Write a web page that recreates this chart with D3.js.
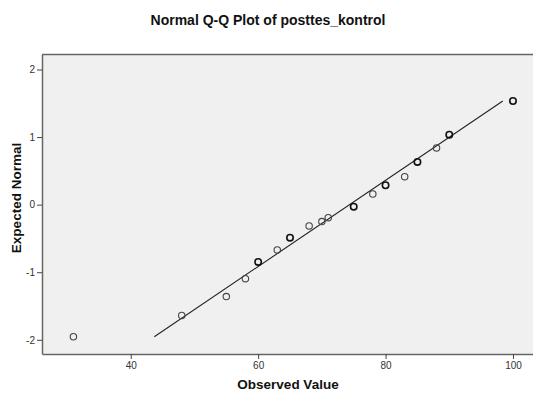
<!DOCTYPE html>
<html><head><meta charset="utf-8">
<script src="https://cdn.jsdelivr.net/npm/d3@7"></script>
<style>body{margin:0;background:#fff}svg{display:block}</style>
</head><body><svg id="c" width="533" height="393"></svg>
<script>
const observed = [31, 48, 55, 58, 60, 63, 65, 68, 70, 71, 75, 78, 80, 83, 85, 88, 90, 100];
const expected = [-1.955, -1.64, -1.36, -1.095, -0.848, -0.67, -0.488, -0.315, -0.25, -0.192, -0.03, 0.158, 0.287, 0.414, 0.632, 0.839, 1.036, 1.534];
const counts   = [1, 1, 1, 1, 2, 1, 2, 1, 1, 1, 2, 1, 2, 1, 2, 1, 2, 2];
const lineMean = 74.35, lineSD = 15.68;
const xTicks = [40, 60, 80, 100];
const yTicks = [-2, -1, 0, 1, 2];

const svg = d3.select("#c");
const L = 42, T = 54.5, R = 534, B = 354;
const x = d3.scaleLinear().domain([26.07, 103.3]).range([L, R]);
const y = d3.scaleLinear().domain([-2.21, 2.222]).range([B, T]);
const font = "Liberation Sans, Arial, sans-serif";

svg.append("rect").attr("x", L).attr("y", T).attr("width", R - L).attr("height", B - T)
  .attr("fill", "#f0f0f0");

svg.append("text").attr("x", 268).attr("y", 25).attr("text-anchor", "middle")
  .attr("font-family", font).attr("font-weight", "bold")
  .attr("font-size", 14).attr("fill", "#111").text("Normal Q-Q Plot of posttes_kontrol");

const fmt = d => String(d);
const xAxis = svg.append("g").attr("transform", `translate(0,${B})`)
  .call(d3.axisBottom(x).tickValues(xTicks).tickFormat(fmt).tickSize(5).tickSizeOuter(0).tickPadding(3));
const yAxis = svg.append("g").attr("transform", `translate(${L},0)`)
  .call(d3.axisLeft(y).tickValues(yTicks).tickFormat(fmt).tickSize(5).tickSizeOuter(0).tickPadding(2));
[xAxis, yAxis].forEach(g => {
  g.select(".domain").attr("stroke", "#666").attr("stroke-width", 1.5);
  g.selectAll(".tick line").attr("stroke", "#444");
  g.selectAll(".tick text").attr("font-family", font)
    .attr("font-size", 10).attr("fill", "#333");
});
svg.append("line").attr("x1", L).attr("x2", R).attr("y1", T).attr("y2", T)
  .attr("stroke", "#666").attr("stroke-width", 1.5);

svg.append("text").attr("x", 288).attr("y", 389).attr("text-anchor", "middle")
  .attr("font-family", font).attr("font-weight", "bold")
  .attr("font-size", 13.5).attr("fill", "#111").text("Observed Value");
svg.append("text").attr("transform", `translate(21,198) rotate(-90)`)
  .attr("text-anchor", "middle")
  .attr("font-family", font).attr("font-weight", "bold")
  .attr("font-size", 13.5).attr("fill", "#111").text("Expected Normal");

const z0 = d3.min(expected), z1 = d3.max(expected);
svg.append("line")
  .attr("x1", x(lineMean + lineSD * z0)).attr("y1", y(z0))
  .attr("x2", x(lineMean + lineSD * z1)).attr("y2", y(z1))
  .attr("stroke", "#222").attr("stroke-width", 1.1);

const pts = observed.map((v, i) => ({v, e: expected[i], c: counts[i]}));
svg.selectAll("circle.p").data(pts).enter().append("circle").attr("class", "p")
  .attr("cx", d => x(d.v)).attr("cy", d => y(d.e)).attr("r", 3.2)
  .attr("fill", "none")
  .attr("stroke", d => d.c > 1 ? "#111" : "#444")
  .attr("stroke-width", d => d.c > 1 ? 1.6 : 1.1);
</script></body></html>
